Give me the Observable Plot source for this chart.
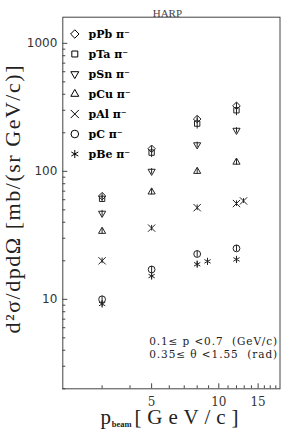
<!DOCTYPE html>
<html><head><meta charset="utf-8">
<script src="https://cdn.jsdelivr.net/npm/d3@7"></script>
<script src="https://cdn.jsdelivr.net/npm/@observablehq/plot@0.6"></script>
<style>html,body{margin:0;padding:0;background:#fff} svg{display:block}</style>
</head><body><div id="chart"></div>
<script>
// ---- data ----
const targets = ["pPb", "pTa", "pSn", "pCu", "pAl", "pC", "pBe"];
const legendLabels = ["pPb π⁻", "pTa π⁻", "pSn π⁻", "pCu π⁻", "pAl π⁻", "pC π⁻", "pBe π⁻"];
const momenta = [3, 5, 8, 12];
const pPb = [64, 150, 256, 325];
const pTa = [61, 140, 236, 300];
const pSn = [47, 100, 161, 209];
const pCu = [34, 69, 100, 118];
const pAl = [20, 36, 52, 56];
const pC  = [10.0, 17.1, 22.6, 25.0];
const pBe = [9.2, 15.2, 18.8, 20.5];
const pPbErr = [3, 8, 14, 18];
const pTaErr = [3, 12, 22, 28];
const pSnErr = [2.5, 5, 8, 10];
const pCuErr = [1.8, 3.5, 5, 6];
const pAlErr = [1, 1.8, 2.6, 2.8];
const pCErr  = [0.6, 1.0, 1.3, 1.4];
const pBeErr = [0.5, 0.8, 1.0, 1.0];
const extraTargets = ["pAl", "pBe"];
const extraMomenta = [12.9, 8.9];
const extraValues = [58.7, 19.8];
const extraErrors = [2.5, 1.0];
const xMajorTicks = [5, 10, 15];
const xTickLabels = ["5", "10", "15"];
const xMinorTicks = [3, 4, 6, 7, 8, 9, 11, 12, 13, 14, 16, 17, 18];
const yMajorTicks = [10, 100, 1000];
const yTickLabels = ["10", "100", "1000"];
const yMinorTicks = [2, 3, 4, 5, 6, 7, 8, 9, 20, 30, 40, 50, 60, 70, 80, 90, 200, 300, 400, 500, 600, 700, 800, 900];
const titleText = "HARP";
const yLabel = "d²σ/dpdΩ [mb/(sr GeV/c)]";
const xLabelMain = "p";
const xLabelSub = "beam";
const xLabelUnit = "[GeV/c]";
const noteLines = ["0.1≤ p <0.7  (GeV/c)", "0.35≤ θ <1.55  (rad)"];

// ---- table ----
const seriesValues = [pPb, pTa, pSn, pCu, pAl, pC, pBe];
const seriesErrors = [pPbErr, pTaErr, pSnErr, pCuErr, pAlErr, pCErr, pBeErr];
const rows = targets.flatMap((t, i) => momenta.map((p, j) => ({target: t, p, v: seriesValues[i][j], e: seriesErrors[i][j]})))
  .concat(extraTargets.map((t, k) => ({target: t, p: extraMomenta[k], v: extraValues[k], e: extraErrors[k]})));
const xTickRows = xMajorTicks.map((v, i) => ({v, label: xTickLabels[i]}));
const yTickRows = yMajorTicks.map((v, i) => ({v, label: yTickLabels[i]}));

// ---- styling ----
const triangleDown = {draw(ctx, size) {
  const k = Math.sqrt(size) * 0.6824, t = k / 2, u = k * Math.sqrt(3) / 2;
  ctx.moveTo(0, k); ctx.lineTo(u, -t); ctx.lineTo(-u, -t); ctx.closePath();
}};
const symbols = ["diamond2", "square2", triangleDown, "triangle2", "times", "circle", "asterisk"];
const ink = "#222";
const serif = "'Liberation Serif', 'DejaVu Serif', serif";
const dserif = "'DejaVu Serif', serif";

const marks = [];
marks.push(Plot.frame({stroke: "#444", strokeWidth: 1}));
// axes: inward ticks
marks.push(Plot.axisY(yMajorTicks, {tickSize: -5, text: null, label: null, stroke: "#444"}));
marks.push(Plot.axisY(yMinorTicks, {tickSize: -3, text: null, label: null, stroke: "#444"}));
marks.push(Plot.axisX(xMajorTicks, {tickSize: -5, text: null, label: null, stroke: "#444"}));
marks.push(Plot.axisX(xMinorTicks, {tickSize: -3, text: null, label: null, stroke: "#444"}));
// tick labels
marks.push(Plot.text(yTickRows, {y: "v", text: "label", frameAnchor: "left", dx: -5.5, textAnchor: "end", lineAnchor: "middle", fontSize: 12, fontFamily: "DejaVu Sans", fill: "#333"}));
marks.push(Plot.text(xTickRows, {x: "v", text: "label", frameAnchor: "bottom", dy: 17.5, textAnchor: "middle", lineAnchor: "bottom", fontSize: 12, fontFamily: dserif, fill: "#333"}));
// data
targets.forEach((t, i) => {
  const d = rows.filter(r => r.target === t);
  marks.push(Plot.ruleX(d, {x: "p", y1: r => r.v - r.e, y2: r => r.v + r.e, stroke: ink, strokeWidth: 1}));
  marks.push(Plot.dot(d, {x: "p", y: "v", symbol: symbols[i], r: 3.4, fill: "none", stroke: ink, strokeWidth: 1}));
});
// legend
targets.forEach((t, i) => {
  marks.push(Plot.dot([t], {frameAnchor: "top-left", dx: 12, dy: 16.8 + 20 * i, symbol: symbols[i], r: 3.8, fill: "none", stroke: "#000", strokeWidth: 1}));
  marks.push(Plot.text([legendLabels[i]], {frameAnchor: "top-left", dx: 25.7, dy: 16.8 + 20 * i, textAnchor: "start", lineAnchor: "middle", fontSize: 11, fontWeight: "bold", fontFamily: dserif, fill: "#000"}));
});
// title, notes, labels
marks.push(Plot.text([titleText], {frameAnchor: "top", dx: -4, dy: -8.3, fontSize: 11, fontFamily: serif, fill: "#444"}));
noteLines.forEach((s, i) => {
  marks.push(Plot.text([s], {frameAnchor: "bottom-right", dx: -2.8, dy: -47.6 + 13.6 * i, textAnchor: "end", lineAnchor: "middle", fontSize: 10.5, fontFamily: dserif, fill: "#222"}));
});
marks.push(Plot.text([yLabel], {frameAnchor: "left", dx: -49.7, dy: -3.5, rotate: -90, textAnchor: "middle", lineAnchor: "middle", fontSize: 22, fontFamily: serif, fill: "#222"}));
marks.push(Plot.text([xLabelMain], {frameAnchor: "bottom-left", dx: 37.7, dy: 34.8, textAnchor: "start", lineAnchor: "bottom", fontSize: 21, fontFamily: serif, fill: "#222"}));
marks.push(Plot.text([xLabelSub], {frameAnchor: "bottom-left", dx: 49, dy: 38.6, textAnchor: "start", lineAnchor: "bottom", fontSize: 8.5, fontWeight: "bold", fontFamily: serif, fill: "#222"}));
marks.push(Plot.text([xLabelUnit], {frameAnchor: "bottom-left", dx: 175.7, dy: 34.8, textAnchor: "end", lineAnchor: "bottom", fontSize: 21, fontFamily: serif, fill: "#222"}));

const chart = Plot.plot({
  width: 284, height: 434,
  marginLeft: 62.3, marginRight: 4.5, marginTop: 16.7, marginBottom: 45.7,
  x: {type: "log", domain: [2, 18.8]},
  y: {type: "log", domain: [2, 1600]},
  style: {background: "#fff", color: "#222", overflow: "visible"},
  marks
});
// widen a few labels to the reference's letter spacing
const stretch = {[xLabelUnit]: 104, [yLabel]: 268, [noteLines[0]]: 128, [noteLines[1]]: 128};
chart.querySelectorAll("text").forEach(el => {
  const L = stretch[el.textContent];
  if (L) { el.setAttribute("textLength", L); el.setAttribute("lengthAdjust", "spacing"); }
});
document.getElementById("chart").appendChild(chart);
</script>
</body></html>
